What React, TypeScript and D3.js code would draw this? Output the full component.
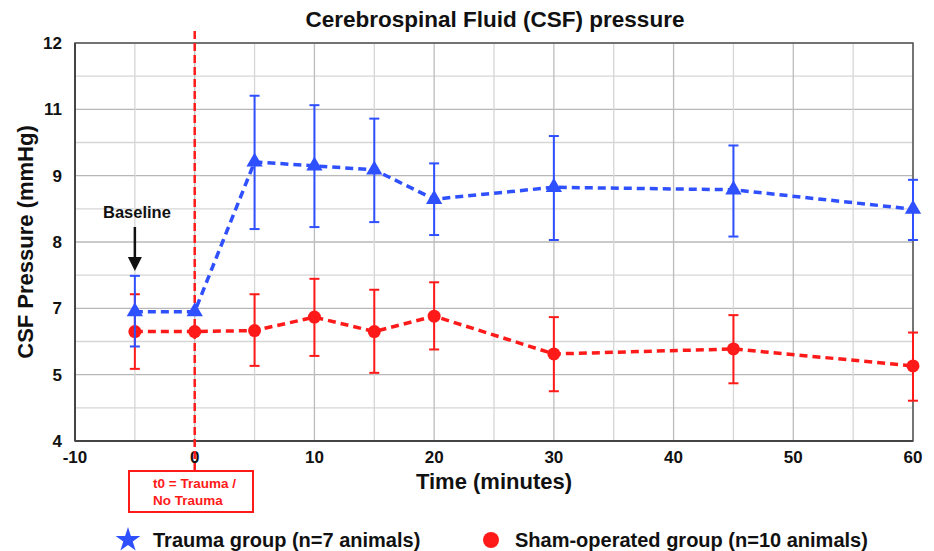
import React from "react";
import * as d3 from "d3";

const times = [-5, 0, 5, 10, 15, 20, 30, 45, 60];
const traumaMean = [6.6, 6.6, 9.61, 9.53, 9.45, 8.86, 9.1, 9.05, 8.66];
const traumaHigh = [7.32, null, 10.94, 10.75, 10.48, 9.58, 10.13, 9.94, 9.25];
const traumaLow = [5.9, null, 8.26, 8.3, 8.4, 8.14, 8.04, 8.11, 8.04];
const shamMean = [6.2, 6.2, 6.22, 6.49, 6.2, 6.51, 5.75, 5.85, 5.51];
const shamHigh = [6.95, null, 6.95, 7.26, 7.04, 7.19, 6.49, 6.53, 6.18];
const shamLow = [5.45, null, 5.51, 5.71, 5.37, 5.84, 5.0, 5.16, 4.81];

const xTicks = [-10, 0, 10, 20, 30, 40, 50, 60];
const xGrid = [-10, -5, 0, 5, 10, 15, 20, 25, 30, 35, 40, 45, 50, 55, 60];
const yTicks = [4, 5.333, 6.667, 8, 9.333, 10.667, 12];
const yTickLabels = ["4", "5", "7", "8", "9", "11", "12"];
const yGrid = [4, 4.667, 5.333, 6, 6.667, 7.333, 8, 8.667, 9.333, 10, 10.667, 11.333, 12];

const BLUE = "#2f50ff";
const RED = "#ff1a1a";
const FONT = "'Liberation Sans', Arial, Helvetica, sans-serif";

export default function App() {
  const W = 934, H = 551;
  const x = d3.scaleLinear().domain([-10, 60]).range([75, 913]);
  const y = d3.scaleLinear().domain([4, 12]).range([441, 43]);
  const line = d3
    .line<[number, number]>()
    .x((d) => x(d[0]))
    .y((d) => y(d[1]));
  const tri = d3.symbol().type(d3.symbolTriangle).size(115)();
  const star = d3.symbol().type(d3.symbolStar).size(190)();

  const series = [
    { mean: shamMean, hi: shamHigh, lo: shamLow, color: RED, marker: "circle" },
    { mean: traumaMean, hi: traumaHigh, lo: traumaLow, color: BLUE, marker: "tri" },
  ];

  return (
    <svg width={W} height={H} style={{ position: "absolute", left: 0, top: 0, background: "#fff" }} fontFamily={FONT}>
      <rect width={W} height={H} fill="#fff" />
      {/* grid */}
      {yGrid.map((v, i) => (
        <line key={"yg" + i} x1={x(-10)} x2={x(60)} y1={y(v)} y2={y(v)}
          stroke={i % 2 === 0 ? "#b8b8b8" : "#d6d6d6"} strokeWidth={1.3} />
      ))}
      {xGrid.map((v, i) => (
        <line key={"xg" + i} x1={x(v)} x2={x(v)} y1={y(4)} y2={y(12)}
          stroke={i % 2 === 0 ? "#bcbcbc" : "#d6d6d6"} strokeWidth={1.3} />
      ))}
      {/* frame */}
      <rect x={x(-10)} y={y(12)} width={x(60) - x(-10)} height={y(4) - y(12)} fill="none" stroke="#555" strokeWidth={1.5} />
      <line x1={x(-10)} x2={x(60)} y1={y(4)} y2={y(4)} stroke="#444" strokeWidth={2} />
      <line x1={x(-10)} x2={x(-10)} y1={y(4)} y2={y(12)} stroke="#444" strokeWidth={2} />

      {/* y ticks */}
      {yTicks.map((v, i) => (
        <text key={"yt" + i} x={62} y={y(v)} dy="0.36em" textAnchor="end" fontSize={17} fontWeight="bold" fill="#111">
          {yTickLabels[i]}
        </text>
      ))}
      {/* x ticks */}
      {xTicks.map((v) => (
        <text key={"xt" + v} x={x(v)} y={463} textAnchor="middle" fontSize={17} fontWeight="bold" fill="#111">
          {v}
        </text>
      ))}

      {/* t0 vertical line */}
      <line x1={x(0)} x2={x(0)} y1={31} y2={471} stroke={RED} strokeWidth={2.5} strokeDasharray="8,4" />
      <rect x={129} y={471} width={124} height={41} fill="#fff" stroke={RED} strokeWidth={2} />
      <text x={153} y={488} fontSize={13.5} fontWeight="bold" fill={RED}>t0 = Trauma /</text>
      <text x={153} y={505} fontSize={13.5} fontWeight="bold" fill={RED}>No Trauma</text>

      {/* series */}
      {series.map((s, si) => {
        const pts = times.map((t, i) => [t, s.mean[i]] as [number, number]);
        return (
          <g key={"s" + si}>
            <path d={line(pts) || ""} fill="none" stroke={s.color} strokeWidth={3.5} strokeDasharray="8,5" />
            {times.map((t, i) => {
              const hi = s.hi[i], lo = s.lo[i];
              if (hi == null || lo == null) return null;
              return (
                <g key={"e" + i} stroke={s.color} strokeWidth={2}>
                  <line x1={x(t)} x2={x(t)} y1={y(hi)} y2={y(lo)} />
                  <line x1={x(t) - 5} x2={x(t) + 5} y1={y(hi)} y2={y(hi)} />
                  <line x1={x(t) - 5} x2={x(t) + 5} y1={y(lo)} y2={y(lo)} />
                </g>
              );
            })}
            {times.map((t, i) =>
              s.marker === "circle" ? (
                <circle key={"m" + i} cx={x(t)} cy={y(s.mean[i])} r={6.5} fill={s.color} />
              ) : (
                <path key={"m" + i} d={tri || ""} transform={`translate(${x(t)},${y(s.mean[i])})`} fill={s.color} />
              )
            )}
          </g>
        );
      })}

      {/* baseline annotation */}
      <text x={103} y={218} fontSize={16.5} fontWeight="bold" fill="#111">Baseline</text>
      <line x1={x(-5)} x2={x(-5)} y1={227} y2={260} stroke="#111" strokeWidth={2.5} />
      <path d={`M${x(-5) - 7},${257} L${x(-5) + 7},${257} L${x(-5)},${271} Z`} fill="#111" />

      {/* titles */}
      <text x={495} y={27} textAnchor="middle" fontSize={22.5} fontWeight="bold" fill="#111">
        Cerebrospinal Fluid (CSF) pressure
      </text>
      <text x={494} y={489} textAnchor="middle" fontSize={22} fontWeight="bold" fill="#111">
        Time (minutes)
      </text>
      <text transform={`translate(33,${(y(4) + y(12)) / 2}) rotate(-90)`} textAnchor="middle" fontSize={22} fontWeight="bold" fill="#111">
        CSF Pressure (mmHg)
      </text>

      {/* legend */}
      <path d={star || ""} transform="translate(128,540)" fill={BLUE} />
      <text x={153} y={547} fontSize={20} fontWeight="bold" fill="#111">Trauma group (n=7 animals)</text>
      <circle cx={491} cy={540} r={8} fill={RED} />
      <text x={515} y={547} fontSize={20} fontWeight="bold" fill="#111">Sham-operated group (n=10 animals)</text>
    </svg>
  );
}
